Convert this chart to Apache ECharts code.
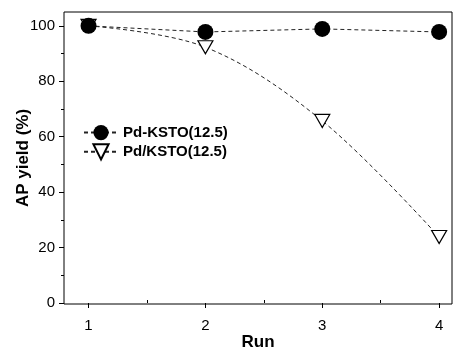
<!DOCTYPE html>
<html>
<head>
<meta charset="utf-8">
<script src="https://cdn.jsdelivr.net/npm/echarts@6/dist/echarts.min.js"></script>
<style>
  html, body { margin: 0; padding: 0; background: #fff; }
  #chart { width: 454px; height: 349px; }
</style>
</head>
<body>
<div id="chart"></div>
<script>
var chart = echarts.init(document.getElementById('chart'));

// data
const runs = [1, 2, 3, 4];
const pdKsto = [100, 97.8, 98.9, 97.8];      // Pd-KSTO(12.5)
const pdSlashKsto = [100, 92.3, 65.7, 23.8]; // Pd/KSTO(12.5)
const xTicks = [1, 2, 3, 4];
const xMinor = [1.5, 2.5, 3.5];
const yTicks = [0, 20, 40, 60, 80, 100];
const yMinor = [10, 30, 50, 70, 90];

const font = 'Liberation Sans, Arial, sans-serif';

function pairs(ys) {
  return runs.map(function (x, i) { return [x, ys[i]]; });
}

const xBase = { type: 'value', min: 0.79, max: 4.11, splitLine: { show: false }, axisLine: { show: false } };
const yBase = { type: 'value', min: -0.36, max: 105, splitLine: { show: false }, axisLine: { show: false } };

const option = {
  animation: false,
  grid: {
    left: 64, right: 2, top: 12, bottom: 45,
    outerBoundsMode: 'none',
    show: true, borderColor: '#000', borderWidth: 1
  },
  legend: {
    orient: 'vertical',
    left: 83,
    top: 125,
    padding: 0,
    itemWidth: 34,
    itemHeight: 19,
    itemGap: 3,
    textStyle: { fontFamily: font, fontSize: 15, fontWeight: 'bold', color: '#000' },
    data: ['Pd-KSTO(12.5)', 'Pd/KSTO(12.5)']
  },
  xAxis: [
    Object.assign({}, xBase, {
      name: 'Run', nameLocation: 'middle', nameGap: 30, nameMoveOverlap: false,
      nameTextStyle: { fontFamily: font, fontSize: 17, fontWeight: 'bold', color: '#000' },
      axisTick: { show: true, length: 5, customValues: xTicks, lineStyle: { color: '#000' } },
      axisLabel: { customValues: xTicks, margin: 14, fontFamily: font, fontSize: 15, color: '#000' }
    }),
    Object.assign({}, xBase, {
      axisTick: { show: true, length: 3, customValues: xMinor, lineStyle: { color: '#000' } },
      axisLabel: { show: false }
    })
  ],
  yAxis: [
    Object.assign({}, yBase, {
      name: 'AP yield (%)', nameLocation: 'middle', nameGap: 32, nameMoveOverlap: false,
      nameTextStyle: { fontFamily: font, fontSize: 17, fontWeight: 'bold', color: '#000' },
      axisTick: { show: true, length: 5, customValues: yTicks, lineStyle: { color: '#000' } },
      axisLabel: { customValues: yTicks, margin: 9, fontFamily: font, fontSize: 15, color: '#000' }
    }),
    Object.assign({}, yBase, {
      position: 'left',
      axisTick: { show: true, length: 3, customValues: yMinor, lineStyle: { color: '#000' } },
      axisLabel: { show: false }
    })
  ],
  series: [
    {
      name: 'Pd-KSTO(12.5)',
      type: 'line',
      data: pairs(pdKsto),
      symbol: 'circle',
      symbolSize: 16,
      itemStyle: { color: '#000' },
      lineStyle: { color: '#222', width: 1, type: [4, 3] },
      z: 3
    },
    {
      name: 'Pd/KSTO(12.5)',
      type: 'line',
      data: pairs(pdSlashKsto),
      smooth: 0.35,
      symbol: 'triangle',
      symbolRotate: 180,
      symbolSize: [15, 13],
      itemStyle: { color: '#fff', borderColor: '#000', borderWidth: 1.2 },
      lineStyle: { color: '#222', width: 1, type: [4, 3] },
      z: 2
    }
  ]
};

chart.setOption(option);
</script>
</body>
</html>
